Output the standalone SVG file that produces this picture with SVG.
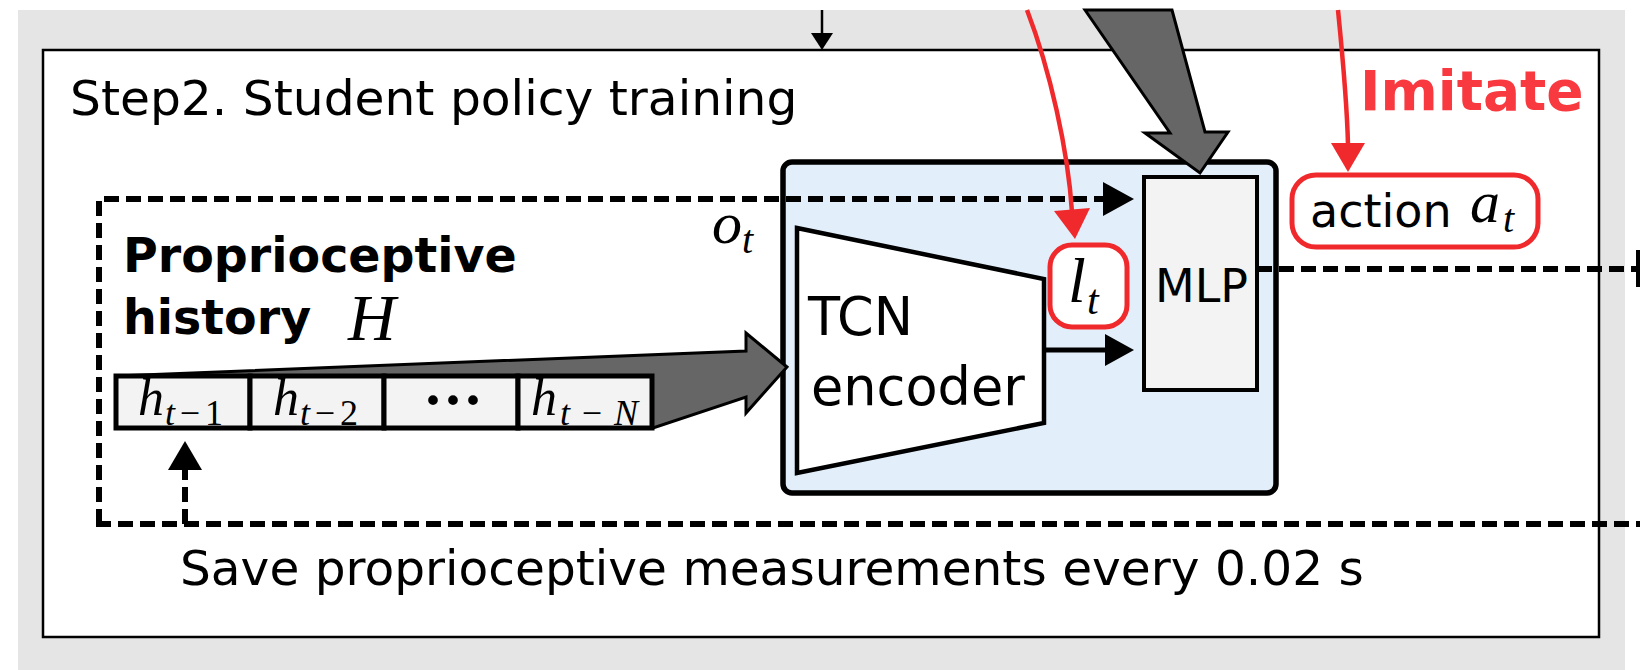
<svg xmlns="http://www.w3.org/2000/svg" width="1640" height="670" viewBox="0 0 1640 670">
  <style>
    .sans { font-family: "DejaVu Sans", Verdana, sans-serif; fill: #000; }
    .bold { font-family: "DejaVu Sans", Verdana, sans-serif; font-weight: bold; }
    .math { font-family: "Liberation Serif", "DejaVu Serif", serif; font-style: italic; fill: #000; }
    .mathr { font-family: "Liberation Serif", "DejaVu Serif", serif; fill: #000; }
    .dash { fill: none; stroke: #000; stroke-width: 6; stroke-dasharray: 15 7; }
    .cell { fill: #f3f3f3; stroke: #000; stroke-width: 5; }
    .red { fill: #ffffff; stroke: #f02a2c; stroke-width: 5; }
    .redline { fill: none; stroke: #f02a2c; stroke-width: 4.5; }
    .redhead { fill: #f02a2c; }
    .grayarrow { fill: #666666; stroke: #000; stroke-width: 3; stroke-linejoin: miter; }
  </style>
  <rect x="0" y="0" width="1640" height="670" fill="#ffffff"/>
  <rect x="18" y="10" width="1607" height="660" fill="#e5e5e5"/>

  <g id="outer-box">
    <rect x="43" y="50" width="1556" height="587" fill="#ffffff" stroke="#000" stroke-width="2.5"/>
    <text class="sans" x="70" y="115" font-size="48.7">Step2. Student policy training</text>
  </g>

  <g id="student-policy">
    <rect x="783" y="162" width="493" height="331" rx="9" fill="#e2eefa" stroke="#000" stroke-width="5.5"/>
  </g>

  <g id="tcn-encoder">
    <polygon points="797,228 1044,279 1044,423 797,473" fill="#ffffff" stroke="#000" stroke-width="4.5" stroke-linejoin="miter"/>
    <text class="sans" x="808" y="335" font-size="52.5">TCN</text>
    <text class="sans" x="811" y="405" font-size="52.5">encoder</text>
  </g>

  <g id="mlp">
    <rect x="1144" y="177" width="113" height="213" fill="#f3f3f3" stroke="#000" stroke-width="4"/>
    <text class="sans" x="1155" y="302" font-size="46">MLP</text>
  </g>

  <g id="history">
    <polygon class="grayarrow" points="116,376 746,351 746,333 787,367 746,413 746,397 653,428 116,428"/>
    <rect class="cell" x="116" y="376" width="134" height="52"/>
    <rect class="cell" x="250" y="376" width="134" height="52"/>
    <rect class="cell" x="384" y="376" width="134" height="52"/>
    <rect class="cell" x="518" y="376" width="134" height="52"/>
    <text class="math" x="138" y="415" font-size="52">h</text>
    <text class="math" x="165" y="425" font-size="36" textLength="58" lengthAdjust="spacing">t<tspan class="mathr" font-style="normal">−1</tspan></text>
    <text class="math" x="273" y="415" font-size="52">h</text>
    <text class="math" x="300" y="425" font-size="36" textLength="58" lengthAdjust="spacing">t<tspan class="mathr" font-style="normal">−2</tspan></text>
    <text class="mathr" x="453" y="420" font-size="60" font-weight="bold" text-anchor="middle">···</text>
    <text class="math" x="531" y="415" font-size="52">h</text>
    <text class="math" x="560" y="425" font-size="36" textLength="78" lengthAdjust="spacing">t<tspan class="mathr" font-style="normal">−</tspan>N</text>
    <text class="bold" x="123" y="272" font-size="47.5">Proprioceptive</text>
    <text class="bold" x="123" y="334" font-size="47.5">history</text>
    <text class="math" x="348" y="340" font-size="66">H</text>
  </g>

  <g id="latent-lt">
    <rect class="red" x="1050" y="245" width="77" height="82" rx="22"/>
    <text class="math" x="1068" y="302" font-size="64">l</text>
    <text class="math" x="1087" y="314" font-size="42">t</text>
  </g>

  <g id="action-at">
    <rect class="red" x="1292" y="175" width="246" height="72" rx="24"/>
    <text class="sans" x="1310" y="227" font-size="46">action</text>
    <text class="math" x="1470" y="222" font-size="60">a</text>
    <text class="math" x="1503" y="232" font-size="40">t</text>
    <text class="bold" x="1360" y="110" font-size="55" fill="#f83a40">Imitate</text>
  </g>

  <g id="observation-label">
    <text class="math" x="712" y="243" font-size="60">o</text>
    <text class="math" x="742" y="253" font-size="40">t</text>
  </g>

  <g id="save-label">
    <text class="sans" x="180" y="585" font-size="48.6">Save proprioceptive measurements every 0.02 s</text>
  </g>

  <g id="connectors">
    <line x1="822" y1="10" x2="822" y2="34" stroke="#000" stroke-width="2.5"/>
    <polygon points="811,33 833,33 822,50" fill="#000"/>
    <polyline class="dash" points="99,524 99,199 1104,199"/>
    <polygon points="1103,182 1134,199 1103,216" fill="#000"/>
    <line class="dash" x1="1257" y1="269" x2="1640" y2="269"/>
    <line class="dash" x1="96" y1="524" x2="1640" y2="524"/>
    <line class="dash" x1="185" y1="524" x2="185" y2="468" stroke-width="7"/>
    <polygon points="168,470 202,470 185,441" fill="#000"/>
    <line x1="1044" y1="350" x2="1106" y2="350" stroke="#000" stroke-width="5"/>
    <polygon points="1105,334 1134,350 1105,366" fill="#000"/>
    <polygon class="grayarrow" points="1085,10 1170,133 1145,133 1200,173 1228,132 1205,132 1172,10"/>
    <path class="redline" d="M1027,10 C1050,70 1068,150 1072,212"/>
    <polygon class="redhead" points="1054,211 1090,208 1075,239"/>
    <path class="redline" d="M1338,10 C1343,60 1347,100 1348,145"/>
    <polygon class="redhead" points="1331,143 1365,143 1348,172"/>
    <rect x="1636" y="250" width="4" height="37" fill="#000"/>
  </g>
</svg>
